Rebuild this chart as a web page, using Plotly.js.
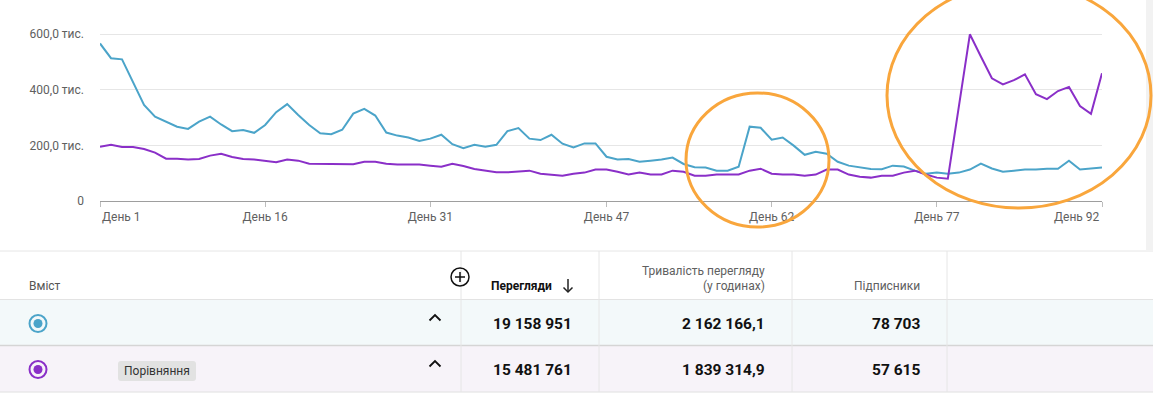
<!DOCTYPE html>
<html><head><meta charset="utf-8">
<script src="https://cdn.plot.ly/plotly-3.0.1.min.js"></script>
<style>html,body{margin:0;padding:0;background:#fff;}#chart{width:1153px;height:396px;}</style>
</head><body><div id="chart"></div>
<script>
// Values in thousands of views, day 1..92
const days = Array.from({length: 92}, (_, i) => i + 1);
const seriesMain = [566,513,509,426,345,303,285,267,259,285,303,275,251,255,245,273,319,348,309,273,
  243,240,256,314,331,307,246,235,228,216,224,238,204,190,202,195,202,251,262,224,
  219,238,206,192,207,207,159,149,151,141,145,149,156,133,121,120,109,109,123,267,
  263,220,228,199,166,177,170,141,127,120,115,114,127,124,109,98,102,98,102,113,
  134,117,105,109,113,113,116,116,145,113,116,120];
const seriesCompare = [195,202,194,194,187,174,152,152,149,151,163,170,158,151,149,145,139,149,145,134,
  134,134,132,132,141,141,134,131,131,131,127,123,134,126,115,108,103,103,107,109,
  98,95,91,98,102,113,113,105,95,102,95,95,109,105,91,91,95,95,95,109,
  116,98,95,95,91,95,113,113,95,87,84,91,91,102,109,95,84,80,339,599,
  519,441,419,434,455,384,366,395,410,341,313,459];
const xTickDays = [1,16,31,47,62,77,92];
const xTickText = ['День 1','День 16','День 31','День 47','День 62','День 77','День 92'];
const yTickVals = [0,200,400,600];
const yTickText = ['0','200,0 тис.','400,0 тис.','600,0 тис.'];
const tableHeaders = ['Вміст','Перегляди','Тривалість перегляду','(у годинах)','Підписники'];
const rowViews = ['19 158 951','15 481 761'];
const rowWatch = ['2 162 166,1','1 839 314,9'];
const rowSubs = ['78 703','57 615'];
const compareLabel = 'Порівняння';

const W = 1153, H = 396;
const px = x => x / W;
const py = y => 1 - y / H;
const BLUE = '#4ba4c9', PURPLE = '#8a2fc8', ORANGE = '#f9a63c';
const FONT = 'Roboto, "Noto Sans", sans-serif';

const traces = [
  {x: days, y: seriesMain, type: 'scatter', mode: 'lines', line: {color: BLUE, width: 2}, hoverinfo: 'skip'},
  {x: days, y: seriesCompare, type: 'scatter', mode: 'lines', line: {color: PURPLE, width: 2}, hoverinfo: 'skip'}
];

const shapes = [];
const annotations = [];
function rect(x0,y0,x1,y1,fill,layer){shapes.push({type:'rect',xref:'paper',yref:'paper',x0:px(x0),x1:px(x1),y0:py(y1),y1:py(y0),fillcolor:fill,line:{width:0},layer:layer||'below'});}
function line(x0,y0,x1,y1,color,w){shapes.push({type:'line',xref:'paper',yref:'paper',x0:px(x0),x1:px(x1),y0:py(y0),y1:py(y1),line:{color:color,width:w||1},layer:'above'});}
function circ(cx,cy,r,lineColor,lw,fill){shapes.push({type:'circle',xref:'paper',yref:'paper',x0:px(cx-r),x1:px(cx+r),y0:py(cy+r),y1:py(cy-r),line:{color:lineColor,width:lw},fillcolor:fill||'rgba(0,0,0,0)',layer:'above'});}
function ell(x0,y0,x1,y1,color,lw){shapes.push({type:'circle',xref:'paper',yref:'paper',x0:px(x0),x1:px(x1),y0:py(y1),y1:py(y0),line:{color:color,width:lw},layer:'above'});}
function text(t,x,y,anchor,size,color,bold){annotations.push({text:bold?'<b>'+t+'</b>':t,xref:'paper',yref:'paper',x:px(x),y:py(y),xanchor:anchor,yanchor:'middle',showarrow:false,font:{family:FONT,size:size,color:color}});}
function pathPx(pts,color,w){shapes.push({type:'path',xref:'paper',yref:'paper',path:pts.map((p,i)=>(i?'L ':'M ')+px(p[0])+','+py(p[1])).join(' '),line:{color:color,width:w},layer:'above'});}

// right grey strip
rect(1146,0,1153,250,'#f2f2f2');
// table backgrounds
rect(0,300,1153,345,'#f3f9fa');
rect(0,346,1153,392,'#f7f3f9');
// table lines
line(0,251,1153,251,'#e6e6e6',1);
line(0,299.5,1153,299.5,'#e3e3e3',1);
line(0,345.5,1153,345.5,'#d5d5d5',1.5);
line(0,392,1153,392,'#e0e0e0',1);
[461,599,792,947].forEach(x => line(x,251,x,392,'#e6e6e6',1));

// header
text(tableHeaders[0],27,286,'left',12,'#555555',false);
text(tableHeaders[1],489,286,'left',12,'#111111',true);
// sort arrow
pathPx([[568,279],[568,292]],'#222222',1.5);
pathPx([[563.5,287.5],[568,292],[572.5,287.5]],'#222222',1.5);
text(tableHeaders[2],767,271,'right',12,'#606060',false);
text(tableHeaders[3],767,286,'right',12,'#606060',false);
text(tableHeaders[4],922,286,'right',12,'#606060',false);
// plus icon
circ(460,277,9,'#111111',1.5);
line(455,277,465,277,'#111111',1.5);
line(460,272,460,282,'#111111',1.5);

// rows
const rowY = [323.5, 369.5];
const rowColors = [BLUE, PURPLE];
rowY.forEach((y,i)=>{
  circ(38,y,8.5,rowColors[i],2);
  circ(38,y,4.5,rowColors[i],0,rowColors[i]);
  pathPx([[429.5,y-3],[435,y-8.5],[440.5,y-3]],'#111111',1.8);
  text(rowViews[i],574,y+0.5,'right',15.5,'#111111',true);
  text(rowWatch[i],767,y+0.5,'right',15.5,'#111111',true);
  text(rowSubs[i],922,y+0.5,'right',15.5,'#111111',true);
});
// comparison chip
shapes.push({type:'path',xref:'paper',yref:'paper',layer:'above',fillcolor:'#e2e2e2',line:{width:0},
  path:`M ${px(121)},${py(361)} L ${px(193)},${py(361)} Q ${px(196)},${py(361)} ${px(196)},${py(364)} L ${px(196)},${py(378)} Q ${px(196)},${py(381)} ${px(193)},${py(381)} L ${px(121)},${py(381)} Q ${px(118)},${py(381)} ${px(118)},${py(378)} L ${px(118)},${py(364)} Q ${px(118)},${py(361)} ${px(121)},${py(361)} Z`});
text(compareLabel,157,371,'center',12,'#333333',false);

// orange hand-drawn ellipses
ell(686,93,829,227,ORANGE,3);
ell(887,-17,1151,208,ORANGE,3);

// first/last x tick labels aligned to edges
annotations.push({text:xTickText[0],xref:'x',yref:'paper',x:xTickDays[0],y:py(217),xanchor:'left',yanchor:'middle',showarrow:false,font:{family:FONT,size:12,color:'#606060'}});
annotations.push({text:xTickText[6],xref:'x',yref:'paper',x:xTickDays[6],y:py(217),xanchor:'right',yanchor:'middle',showarrow:false,font:{family:FONT,size:12,color:'#606060'}});

const layout = {
  width: W, height: H,
  margin: {l:0, r:0, t:0, b:0},
  paper_bgcolor: '#ffffff', plot_bgcolor: 'rgba(0,0,0,0)',
  showlegend: false,
  xaxis: {
    domain: [px(100), px(1102)], anchor: 'y',
    range: [1, 92], showgrid: false, zeroline: false,
    showline: true, linecolor: '#9e9e9e', linewidth: 1,
    ticks: 'outside', ticklen: 5, tickcolor: '#bdbdbd',
    tickvals: xTickDays, ticktext: xTickText.map((t,i)=> (i===0||i===6) ? '' : t),
    tickfont: {family: FONT, size: 12, color: '#606060'}
  },
  yaxis: {
    domain: [py(201), py(24)], anchor: 'x',
    range: [0, 600*177/167], showgrid: true, gridcolor: '#e6e6e6', gridwidth: 1,
    zeroline: false, showline: false, ticks: '',
    tickvals: yTickVals, ticktext: yTickText, ticklabelstandoff: 15,
    tickfont: {family: FONT, size: 12, color: '#606060'}
  },
  shapes: shapes,
  annotations: annotations
};
Plotly.newPlot('chart', traces, layout, {displayModeBar: false, staticPlot: true});
</script></body></html>
